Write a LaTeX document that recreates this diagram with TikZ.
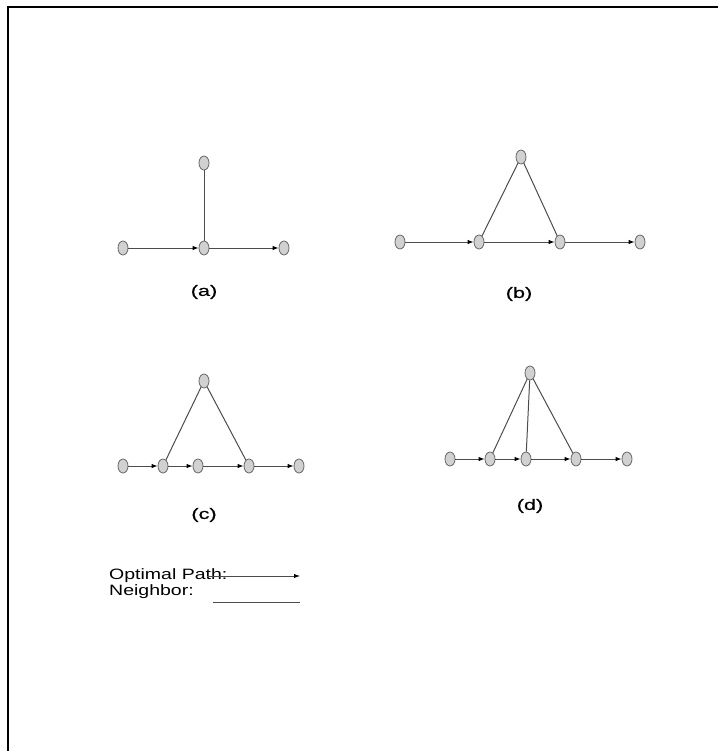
\documentclass[tikz,border=0pt]{standalone}
\usepackage{fontspec}
\setmainfont{Liberation Sans}
\newfontfamily\widefont[FakeStretch=1.3]{Liberation Sans}
\newfontfamily\subfont[FakeStretch=1.45,FakeBold=0.6]{Liberation Sans}
\usetikzlibrary{shapes.geometric,arrows.meta}

\begin{document}
\begin{tikzpicture}[x=1pt, y=-1pt, >={Latex[length=6pt,width=4.5pt,black]},
  vtx/.style={ellipse, draw=black!60, fill=black!18, line width=0.8pt,
    minimum width=10pt, minimum height=14pt, inner sep=0pt},
  opt/.style={->, draw=black!70, line width=1pt},
  nbr/.style={draw=black!70, line width=1pt},
  lbl/.style={font=\widefont\fontsize{15}{17}\selectfont},
  sub/.style={font=\subfont\fontsize{15}{17}\selectfont}]
  \useasboundingbox (0,0) rectangle (718,751);
  % outer frame (top and left only)
  \draw[line width=2pt] (8,751) -- (8,7) -- (718,7);

  % --- (a) ---
  \node[vtx] (a0) at (123,248) {};
  \node[vtx] (a1) at (204,248) {};
  \node[vtx] (a2) at (284,248) {};
  \node[vtx] (a3) at (204,163) {};
  \draw[opt] (a0) -- (a1);
  \draw[opt] (a1) -- (a2);
  \draw[nbr] (a1) -- (a3);
  \node[sub] (la) at (204,292) {(a)};

  % --- (b) ---
  \node[vtx] (b0) at (400,242) {};
  \node[vtx] (b1) at (479,242) {};
  \node[vtx] (b2) at (560,242) {};
  \node[vtx] (b3) at (640,242) {};
  \node[vtx] (b4) at (521,157) {};
  \draw[opt] (b0) -- (b1);
  \draw[opt] (b1) -- (b2);
  \draw[opt] (b2) -- (b3);
  \draw[nbr] (b1) -- (b4);
  \draw[nbr] (b2) -- (b4);
  \node[sub] (lb) at (519,294) {(b)};

  % --- (c) ---
  \node[vtx] (c0) at (123,466) {};
  \node[vtx] (c1) at (163,466) {};
  \node[vtx] (c2) at (198,466) {};
  \node[vtx] (c3) at (249,466) {};
  \node[vtx] (c4) at (299,466) {};
  \node[vtx] (c5) at (204,381) {};
  \draw[opt] (c0) -- (c1);
  \draw[opt] (c1) -- (c2);
  \draw[opt] (c2) -- (c3);
  \draw[opt] (c3) -- (c4);
  \draw[nbr] (c1) -- (c5);
  \draw[nbr] (c3) -- (c5);
  \node[sub] (lc) at (204,515) {(c)};

  % --- (d) ---
  \node[vtx] (d0) at (450,459) {};
  \node[vtx] (d1) at (490,459) {};
  \node[vtx] (d2) at (526,459) {};
  \node[vtx] (d3) at (576,459) {};
  \node[vtx] (d4) at (627,459) {};
  \node[vtx] (d5) at (530,373) {};
  \draw[opt] (d0) -- (d1);
  \draw[opt] (d1) -- (d2);
  \draw[opt] (d2) -- (d3);
  \draw[opt] (d3) -- (d4);
  \draw[nbr] (d1) -- (d5);
  \draw[nbr] (d2) -- (d5);
  \draw[nbr] (d3) -- (d5);
  \node[sub] (ld) at (530,506) {(d)};

  % --- legend ---
  \node[lbl, anchor=base west, inner sep=0pt] (lopt) at (109,579) {Optimal Path:};
  \node[lbl, anchor=base west, inner sep=0pt] (lnbr) at (109,595) {Neighbor:};
  \coordinate (p0) at (207,576);
  \coordinate (p1) at (300,576);
  \coordinate (n0) at (213,602);
  \coordinate (n1) at (300,602);
  \draw[opt] (p0) -- (p1);
  \draw[nbr] (n0) -- (n1);
\end{tikzpicture}
\end{document}
